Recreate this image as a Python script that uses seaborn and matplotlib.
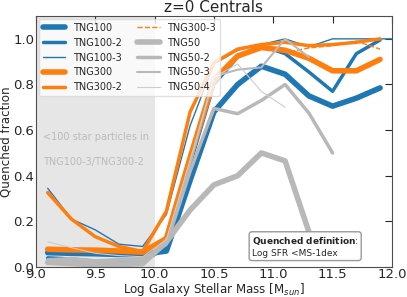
import numpy as np
import matplotlib
matplotlib.use("Agg")
import matplotlib.pyplot as plt
import seaborn as sns

# mass bins (log Mstar)
mass = [9.1, 9.3, 9.5, 9.7, 9.9, 10.1, 10.3, 10.5, 10.7, 10.9, 11.1, 11.3, 11.5, 11.7, 11.9]
mass_ext = mass + [12.1]

tng100 = [0.063, 0.060, 0.058, 0.055, 0.055, 0.070, 0.38, 0.68, 0.80, 0.88, 0.845, 0.75, 0.705, 0.74, 0.785]
tng100_2 = [0.040, 0.035, 0.025, 0.020, 0.025, 0.085, 0.45, 0.80, 0.92, 0.97, 0.935, 0.855, 0.77, 0.935, 0.995]
tng100_3 = [0.345, 0.21, 0.163, 0.10, 0.09, 0.23, 0.62, 0.89, 0.95, 0.975, 1.0, 0.965, 1.0, 1.0, 1.0, 1.0]
tng300 = [0.078, 0.075, 0.074, 0.070, 0.065, 0.125, 0.48, 0.82, 0.925, 0.962, 0.95, 0.915, 0.86, 0.86, 0.91]
tng300_2 = [0.326, 0.21, 0.133, 0.09, 0.068, 0.245, 0.68, 0.895, 0.955, 0.975, 0.985, 0.97, 0.975, 0.985, 1.0]
mass_300_3 = [10.9, 11.1, 11.3, 11.5, 11.7, 11.9]
tng300_3 = [0.97, 0.94, 0.96, 0.97, 0.99, 0.955]
tng50 = [0.020, 0.015, 0.010, 0.010, 0.015, 0.11, 0.25, 0.36, 0.40, 0.50, 0.465, 0.155]
tng50_2 = [0.030, 0.030, 0.025, 0.030, 0.030, 0.10, 0.42, 0.695, 0.672, 0.73, 0.80, 0.675, 0.50]
tng50_3 = [0.035, 0.040, 0.030, 0.035, 0.040, 0.10, 0.45, 0.835, 0.865, 0.875, 1.0, 0.92]
tng50_4 = [0.11, 0.085, 0.06, 0.05, 0.045, 0.12, 0.47, 0.83, 0.89, 0.77, 0.70]

blue = '#1f77b4'
orange = '#ff7f0e'
gray = '#b8b8b8'

sns.set_style("white")
plt.rcParams['font.family'] = ['DejaVu Sans']

fig = plt.figure(figsize=(4.07, 2.97), dpi=100)
ax = fig.add_axes([0.088, 0.101, 0.875, 0.845])

ax.axvspan(9.0, 10.0, color='0.9', zorder=0, lw=0)

series = [
    (mass, tng100, blue, 4, '-', 'TNG100'),
    (mass, tng100_2, blue, 2.5, '-', 'TNG100-2'),
    (mass_ext, tng100_3, blue, 1, '-', 'TNG100-3'),
    (mass, tng300, orange, 4, '-', 'TNG300'),
    (mass, tng300_2, orange, 2.5, '-', 'TNG300-2'),
    (mass_300_3, tng300_3, orange, 1, '--', 'TNG300-3'),
    (mass[:len(tng50)], tng50, gray, 4, '-', 'TNG50'),
    (mass[:len(tng50_2)], tng50_2, gray, 2.5, '-', 'TNG50-2'),
    (mass[:len(tng50_3)], tng50_3, gray, 1.5, '-', 'TNG50-3'),
    (mass[:len(tng50_4)], tng50_4, '#cccccc', 0.8, '-', 'TNG50-4'),
]
for x, y, c, lw, ls, lab in series:
    sns.lineplot(x=x, y=y, color=c, lw=lw, ls=ls, label=lab, ax=ax, sort=False)

ax.set_xlim(9.0, 12.0)
ax.set_ylim(0.0, 1.1)
ax.set_xticks([9.0, 9.5, 10.0, 10.5, 11.0, 11.5, 12.0])
ax.set_yticks([0.0, 0.2, 0.4, 0.6, 0.8, 1.0])
ax.tick_params(direction='in', top=True, right=True, length=5, labelsize=9.5, pad=1)
for s in ax.spines.values():
    s.set_color('0.3')

ax.set_title('z=0 Centrals', fontsize=11, pad=3)
ax.set_xlabel('Log Galaxy Stellar Mass [M$_{sun}$]', fontsize=8.6, labelpad=0)
ax.set_ylabel('Quenched fraction', fontsize=8.6, labelpad=1)

ax.text(9.06, 0.57, '<100 star particles in', color='#bbbbbb', fontsize=7, va='center')
ax.text(9.06, 0.46, 'TNG100-3/TNG300-2', color='#bbbbbb', fontsize=7, va='center')

ax.text(10.82, 0.04, r'$\bf{Quenched\ definition}$:' + '\nLog SFR <MS-1dex', fontsize=6.5,
        va='bottom', ha='left',
        bbox=dict(boxstyle='round,pad=0.3', fc='white', ec='0.6'))

ax.legend(loc='upper left', ncol=2, fontsize=7, framealpha=0.8, edgecolor='0.85',
          handlelength=2.3, columnspacing=1.6, borderaxespad=0.3)

fig.savefig('out.png', dpi=100)
